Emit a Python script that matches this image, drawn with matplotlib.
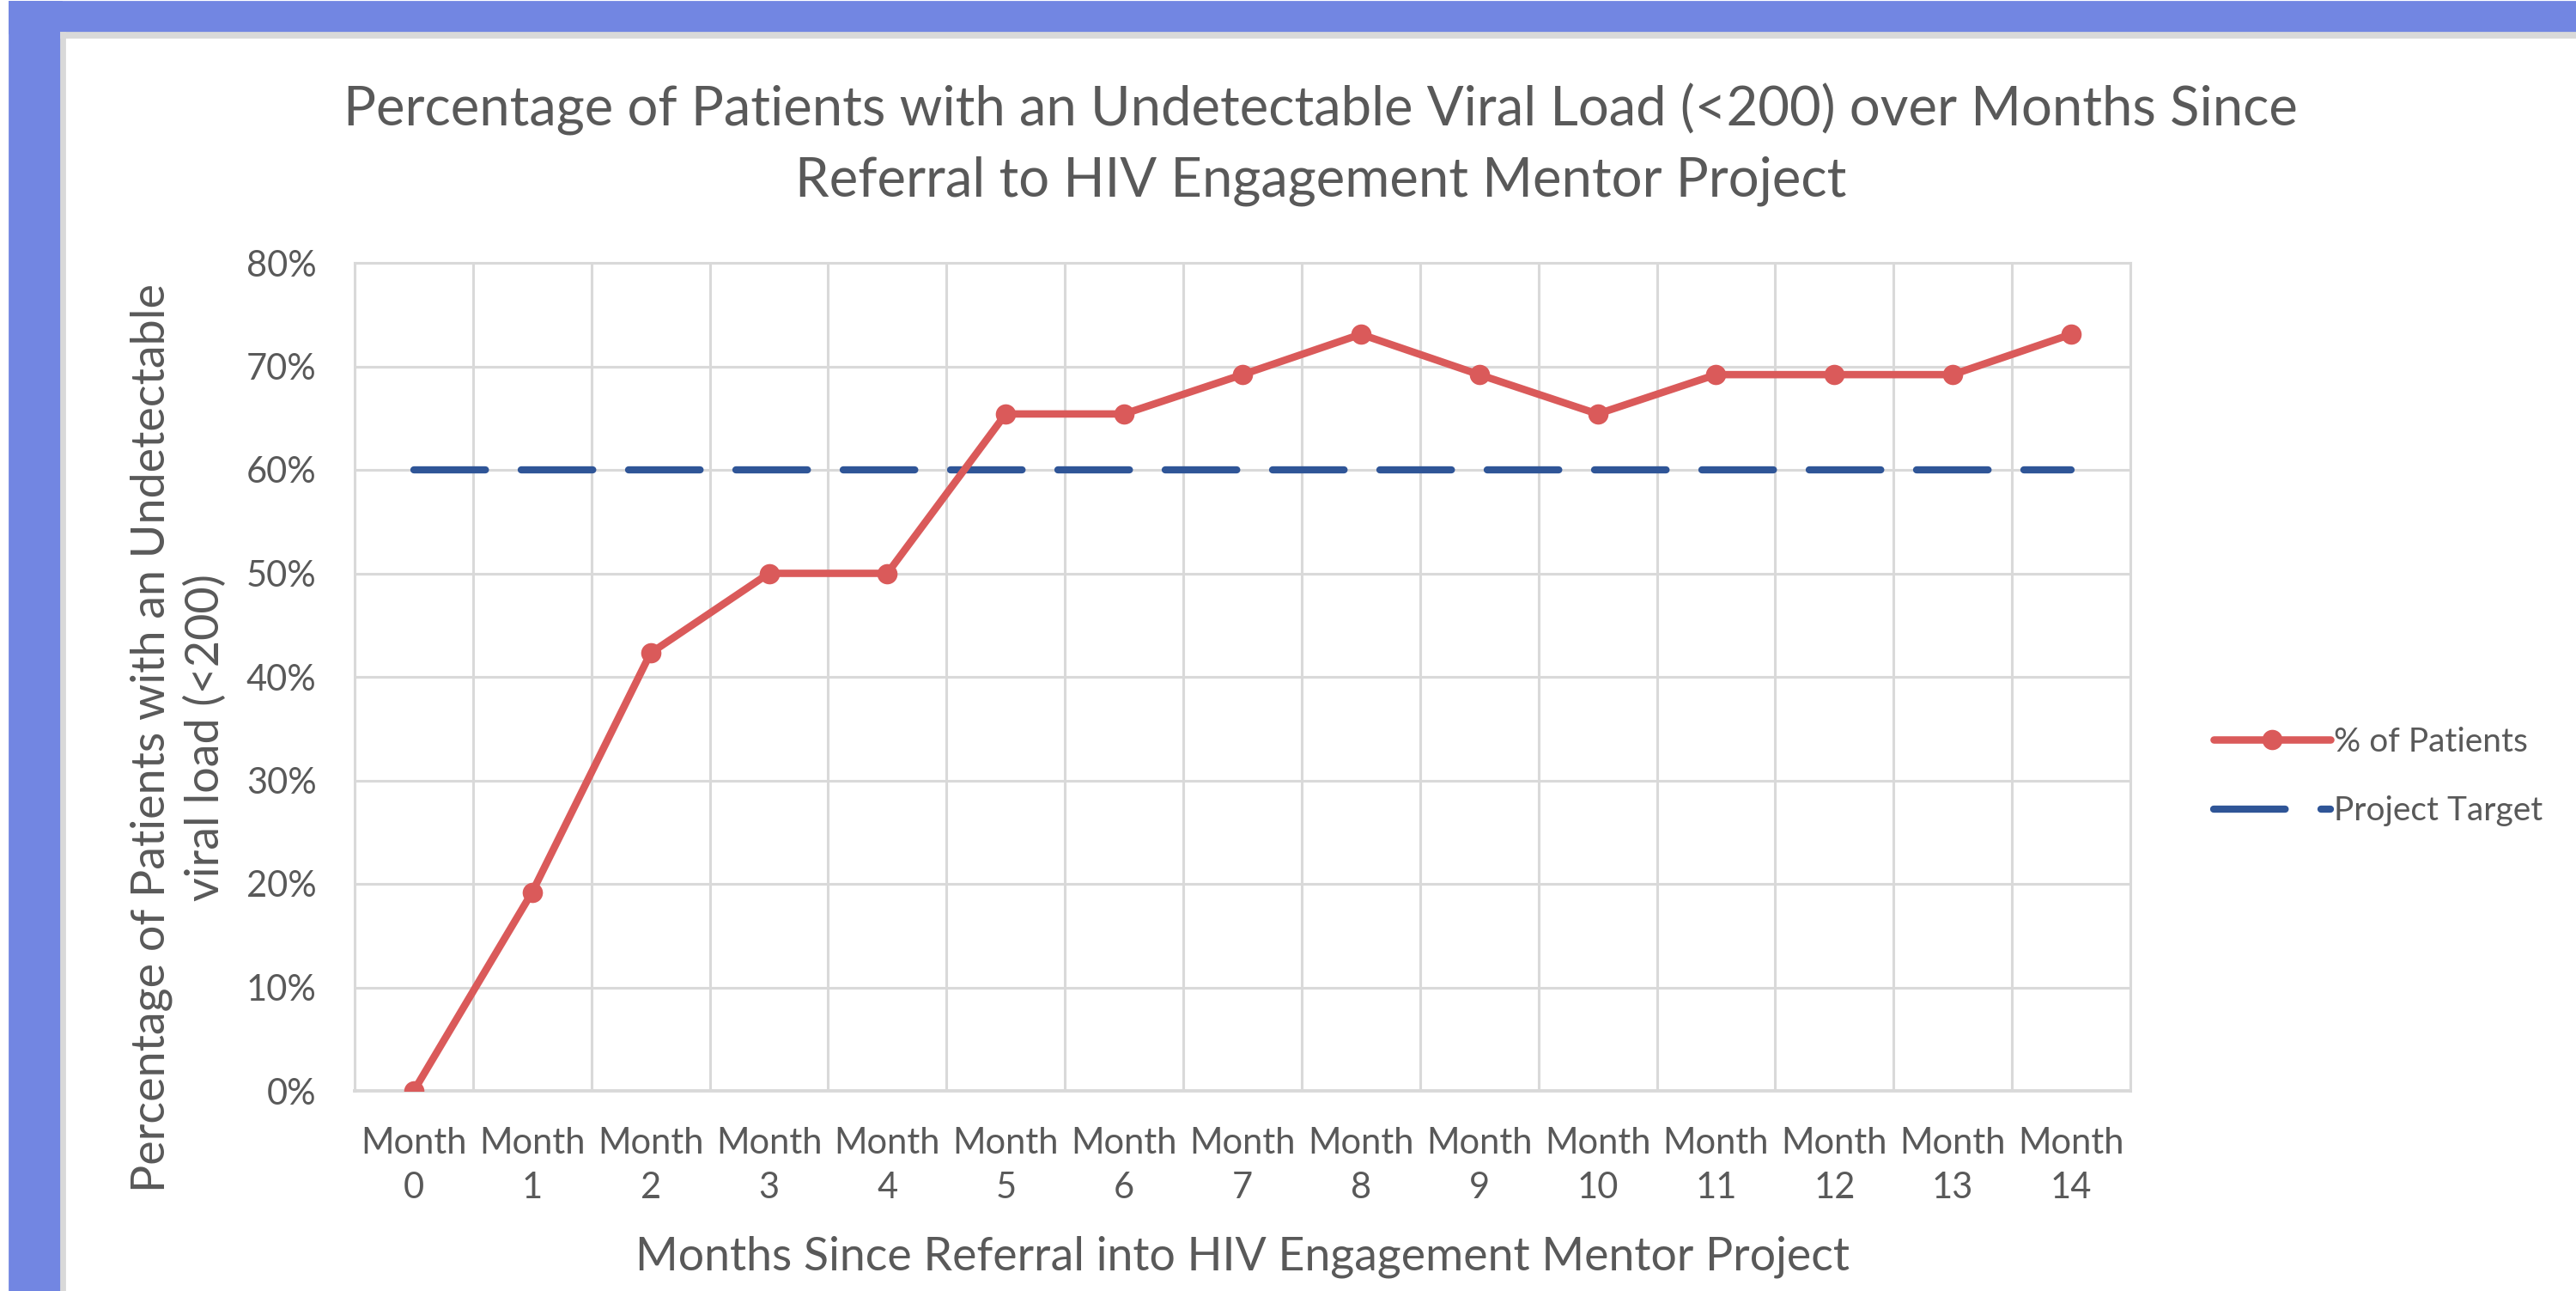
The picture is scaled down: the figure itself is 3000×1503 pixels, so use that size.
import matplotlib
matplotlib.use("Agg")
import matplotlib.pyplot as plt
from matplotlib.patches import Rectangle
from matplotlib.ticker import FuncFormatter, MultipleLocator

# data (cohort of 26 patients)
months = list(range(15))
month_labels = [f"Month\n{m}" for m in months]
pct_patients = [0.0, 19.2, 42.3, 50.0, 50.0, 65.4, 65.4, 69.2, 73.1, 69.2, 65.4, 69.2, 69.2, 69.2, 73.1]
project_target = [60] * len(months)

RED = "#DA5A5A"
BLUE = "#2F5597"
GRID = "#D9D9D9"
TEXT = "#595959"
BORDER = "#7286E2"

plt.rcParams["font.family"] = ["Lato", "DejaVu Sans"]

W, H = 3000, 1503
fig = plt.figure(figsize=(15, 7.515), dpi=200)

# blue frame on the left and top, like the screenshot
fig.patches.append(Rectangle((11 / W, 0), 60 / W, 1 - 2 / H, transform=fig.transFigure,
                             color=BORDER, zorder=0))
fig.patches.append(Rectangle((11 / W, 1 - 38 / H), 1, 36 / H, transform=fig.transFigure,
                             color=BORDER, zorder=0))
fig.patches.append(Rectangle((71 / W, 1 - 43 / H), 1, 5 / H, transform=fig.transFigure,
                             color=GRID, zorder=0))
fig.patches.append(Rectangle((71 / W, 0), 4 / W, 1 - 38 / H, transform=fig.transFigure,
                             color=GRID, zorder=0))

# plot area
left, right, top, bottom = 413, 2481, 306, 1270
ax = fig.add_axes([left / W, 1 - bottom / H, (right - left) / W, (bottom - top) / H])

ax.plot(months, pct_patients, color=RED, lw=3.1, marker="o", ms=7.5,
        label="% of Patients", zorder=4, solid_capstyle="round")
ax.plot(months, project_target, color=BLUE, lw=3.0, dashes=(10, 5.0),
        dash_capstyle="round", label="Project Target", zorder=3)

ax.set_xlim(-0.5, 14.5)
ax.set_ylim(0, 80)
ax.yaxis.set_major_locator(MultipleLocator(10))
ax.yaxis.set_major_formatter(FuncFormatter(lambda v, p: f"{v:.0f}%"))
ax.set_xticks(months)
ax.set_xticklabels(month_labels, linespacing=1.45)
ax.set_xticks([m - 0.5 for m in range(16)], minor=True)

ax.grid(which="major", axis="y", color=GRID, lw=1.1, zorder=0)
ax.grid(which="minor", axis="x", color=GRID, lw=1.1, zorder=0)
ax.tick_params(which="both", length=0)
ax.tick_params(axis="x", pad=15, labelsize=15, labelcolor=TEXT)
ax.tick_params(axis="y", pad=16, labelsize=15, labelcolor=TEXT)
for s in ax.spines.values():
    s.set_color(GRID)
    s.set_linewidth(1.1)
ax.spines["bottom"].set_linewidth(1.4)

fig.text(1538 / W, 1 - 168 / H,
         "Percentage of Patients with an Undetectable Viral Load (<200) over Months Since\n"
         "Referral to HIV Engagement Mentor Project",
         ha="center", va="center", fontsize=22.8, color=TEXT, linespacing=1.5)
fig.text(208 / W, 1 - 859 / H,
         "Percentage of Patients with an Undetectable\nviral load (<200)",
         ha="center", va="center", rotation=90, fontsize=19.4, color=TEXT, linespacing=1.3)
fig.text(1447 / W, 1 - 1463 / H,
         "Months Since Referral into HIV Engagement Mentor Project",
         ha="center", va="center", fontsize=19.3, color=TEXT)

ax.legend(loc="center left", bbox_to_anchor=(2543 / W, 1 - 904 / H),
          bbox_transform=fig.transFigure, frameon=False, fontsize=14,
          handlelength=3.5, handletextpad=0.1, labelspacing=1.15,
          labelcolor=TEXT)

fig.savefig("out.png", dpi=200, facecolor="white")
